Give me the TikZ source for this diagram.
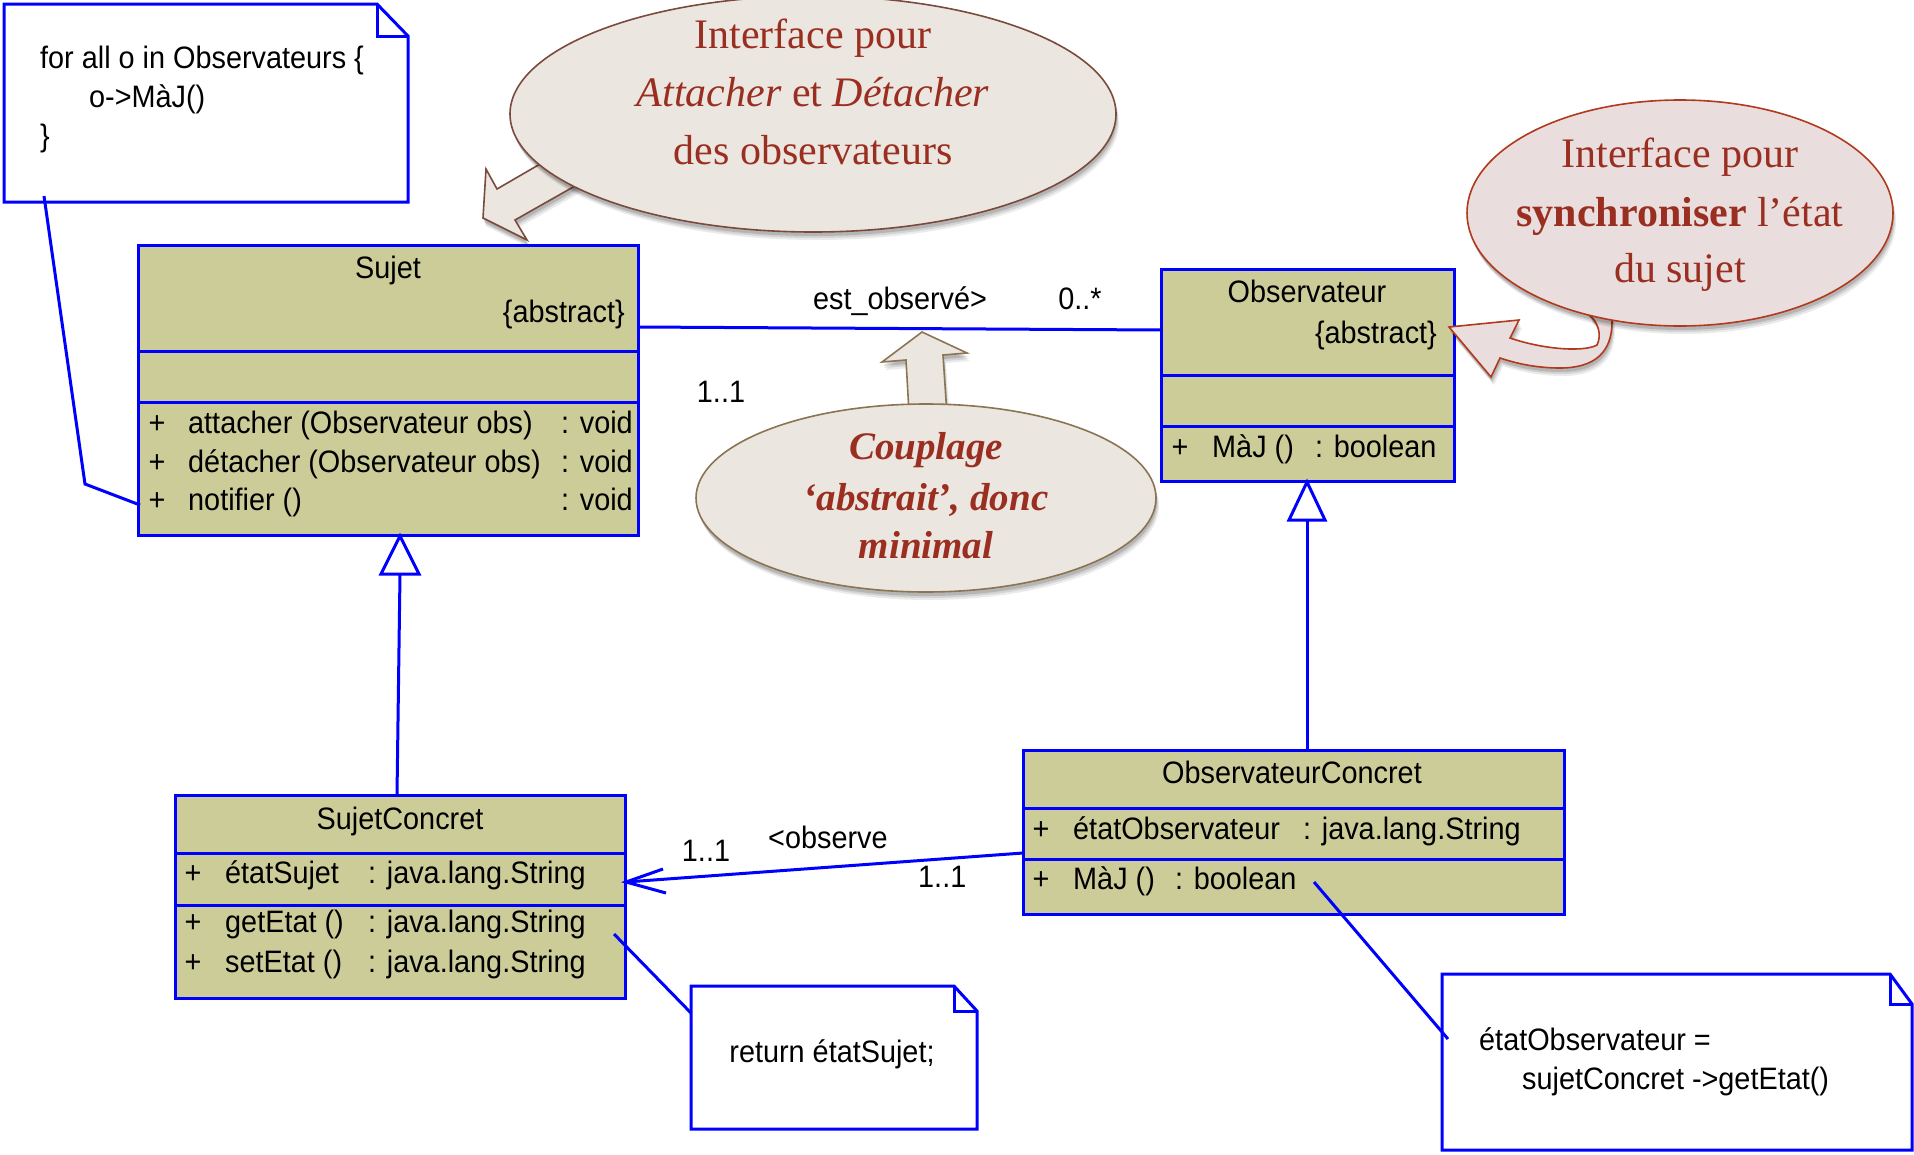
\documentclass[tikz,border=0pt]{standalone}
\usepackage{fontspec}
\newfontfamily\umlfont[FakeStretch=0.93]{Liberation Sans}
\newfontfamily\callfont{Liberation Serif}
\usetikzlibrary{shapes.geometric,shadows,calc}
\definecolor{umlfill}{HTML}{CCCC99}
\definecolor{umlblue}{HTML}{0000FF}
\definecolor{bubblefill}{HTML}{EBE6E0}
\definecolor{bubbleedge}{HTML}{7A4B3C}
\definecolor{couplageedge}{HTML}{8A7452}
\definecolor{syncfill}{HTML}{E9DEDD}
\definecolor{syncedge}{HTML}{B0391E}
\definecolor{bubbletext}{HTML}{9A2E20}

\begin{document}
\begin{tikzpicture}[x=1pt,y=-1pt,
  umlline/.style={draw=umlblue,line width=3pt},
  classbox/.style={umlline,fill=umlfill,anchor=north west,inner sep=0pt,outer sep=0pt},
  notearea/.style={anchor=north west,inner sep=0pt,outer sep=0pt},
  uml/.style={font=\umlfont\fontsize{31}{36}\selectfont,inner sep=0pt,text=black},
  softshadow/.style={
    drop shadow={shadow xshift=3pt,shadow yshift=-8pt,opacity=0.08,fill=black},
    drop shadow={shadow xshift=2pt,shadow yshift=-6pt,opacity=0.10,fill=black},
    drop shadow={shadow xshift=1pt,shadow yshift=-4pt,opacity=0.14,fill=black}},
  bubble/.style={ellipse,inner sep=0pt,line width=1.6pt,softshadow},
  pointer/.style={line width=1.6pt,line join=miter,softshadow},
  bubbletxt/.style={font=\callfont\fontsize{42}{50}\selectfont,text=bubbletext,inner sep=0pt,anchor=base},
]
\useasboundingbox (0,0) rectangle (1914,1154);

% ---------- note: loop over observers ----------
\node[notearea,minimum width=404pt,minimum height=198pt] (noteA) at (4,4) {};
\draw[umlline,fill=white,line join=miter] (noteA.north west) -- ($(noteA.north east)+(-31,0)$)
  -- ($(noteA.north east)+(0,32)$) -- (noteA.south east) -- (noteA.south west) -- cycle;
\draw[umlline,line join=miter] ($(noteA.north east)+(-31,0)$) -- ($(noteA.north east)+(-31,32)$) -- ($(noteA.north east)+(0,32)$);
\node[uml,anchor=base west] (noteAl1) at (40,68) {for all o in Observateurs \{};
\node[uml,anchor=base west] (noteAl2) at (89,107) {o->MàJ()};
\node[uml,anchor=base west] (noteAl3) at (40,146) {\}};

% ---------- class Sujet ----------
\node[classbox,minimum width=500pt,minimum height=290pt] (sujet) at (138,245) {};
\draw[umlline] (138,351) -- (638,351);
\draw[umlline] (138,402) -- (638,402);
\node[uml,anchor=base] (sujetName) at (388,278) {Sujet};
\node[uml,anchor=base east] (sujetAbs) at (625,322) {\{abstract\}};
\node[uml,anchor=base] (sujetP1) at (157,433) {+};
\node[uml,anchor=base west] (sujetM1) at (188,433) {attacher (Observateur obs)};
\node[uml,anchor=base west] (sujetT1) at (561,433) {: void};
\node[uml,anchor=base] (sujetP2) at (157,472) {+};
\node[uml,anchor=base west] (sujetM2) at (188,472) {détacher (Observateur obs)};
\node[uml,anchor=base west] (sujetT2) at (561,472) {: void};
\node[uml,anchor=base] (sujetP3) at (157,510) {+};
\node[uml,anchor=base west] (sujetM3) at (188,510) {notifier ()};
\node[uml,anchor=base west] (sujetT3) at (561,510) {: void};

% note attached to notifier()
\coordinate (noteAfoot) at (44,196);
\coordinate (noteAbend) at (85,484);
\coordinate (notifierPt) at (140,505);
\draw[umlline] (noteAfoot) -- (noteAbend) -- (notifierPt);

% ---------- class Observateur ----------
\node[classbox,minimum width=293pt,minimum height=212pt] (obs) at (1161,269) {};
\draw[umlline] (1161,375) -- (1454,375);
\draw[umlline] (1161,426) -- (1454,426);
\node[uml,anchor=base] (obsName) at (1307,302) {Observateur};
\node[uml,anchor=base east] (obsAbs) at (1437,343) {\{abstract\}};
\node[uml,anchor=base] (obsP1) at (1180,457) {+};
\node[uml,anchor=base west] (obsM1) at (1212,457) {MàJ ()};
\node[uml,anchor=base west] (obsT1) at (1315,457) {: boolean};

% association Sujet -- Observateur
\coordinate (assocL) at (638,327);
\coordinate (assocR) at (1161,330);
\draw[umlline] (assocL) -- (assocR);
\node[uml,anchor=base] (assocName) at (900,309) {est\_observé>};
\node[uml,anchor=base] (assocMulR) at (1080,309) {0..*};
\node[uml,anchor=base] (assocMulL) at (721,402) {1..1};

% ---------- class SujetConcret ----------
\node[classbox,minimum width=450pt,minimum height=203pt] (sconc) at (175,795) {};
\draw[umlline] (175,853) -- (625,853);
\draw[umlline] (175,905) -- (625,905);
\node[uml,anchor=base] (sconcName) at (400,829) {SujetConcret};
\node[uml,anchor=base] (sconcP1) at (193,883) {+};
\node[uml,anchor=base west] (sconcA1) at (225,883) {étatSujet};
\node[uml,anchor=base west] (sconcT1) at (368,883) {: java.lang.String};
\node[uml,anchor=base] (sconcP2) at (193,932) {+};
\node[uml,anchor=base west] (sconcM2) at (225,932) {getEtat ()};
\node[uml,anchor=base west] (sconcT2) at (368,932) {: java.lang.String};
\node[uml,anchor=base] (sconcP3) at (193,972) {+};
\node[uml,anchor=base west] (sconcM3) at (225,972) {setEtat ()};
\node[uml,anchor=base west] (sconcT3) at (368,972) {: java.lang.String};

% generalization SujetConcret -> Sujet
\coordinate (genSujTip) at (400,536);
\coordinate (genSujFoot) at (397,795);
\draw[umlline,fill=white,line join=miter] (genSujTip) -- ($(genSujTip)+(-19,38)$) -- ($(genSujTip)+(19,38)$) -- cycle;
\draw[umlline] ($(genSujTip)+(0,38)$) -- (genSujFoot);

% ---------- class ObservateurConcret ----------
\node[classbox,minimum width=541pt,minimum height=164pt] (oconc) at (1023,750) {};
\draw[umlline] (1023,808) -- (1564,808);
\draw[umlline] (1023,859) -- (1564,859);
\node[uml,anchor=base] (oconcName) at (1292,783) {ObservateurConcret};
\node[uml,anchor=base] (oconcP1) at (1041,839) {+};
\node[uml,anchor=base west] (oconcA1) at (1073,839) {étatObservateur};
\node[uml,anchor=base west] (oconcT1) at (1303,839) {: java.lang.String};
\node[uml,anchor=base] (oconcP2) at (1041,889) {+};
\node[uml,anchor=base west] (oconcM2) at (1073,889) {MàJ ()};
\node[uml,anchor=base west] (oconcT2) at (1175,889) {: boolean};

% generalization ObservateurConcret -> Observateur
\coordinate (genObsTip) at (1307,482);
\coordinate (genObsFoot) at (1307,750);
\draw[umlline,fill=white,line join=miter] (genObsTip) -- ($(genObsTip)+(-18,38)$) -- ($(genObsTip)+(18,38)$) -- cycle;
\draw[umlline] ($(genObsTip)+(0,38)$) -- (genObsFoot);

% association ObservateurConcret -> SujetConcret
\coordinate (obsvStart) at (1023,853);
\coordinate (obsvTip) at (626,882);
\draw[umlline] (obsvStart) -- (obsvTip);
\draw[umlline,line join=miter] ($(obsvTip)+(37,-13)$) -- (obsvTip) -- ($(obsvTip)+(40,11)$);
\node[uml,anchor=base] (obsvMulL) at (706,861) {1..1};
\node[uml,anchor=base west] (obsvName) at (768,848) {<observe};
\node[uml,anchor=base west] (obsvMulR) at (918,887) {1..1};

% ---------- note: getEtat body ----------
\node[notearea,minimum width=286pt,minimum height=143pt] (noteB) at (691,986) {};
\draw[umlline,fill=white,line join=miter] (noteB.north west) -- ($(noteB.north east)+(-23,0)$)
  -- ($(noteB.north east)+(0,25)$) -- (noteB.south east) -- (noteB.south west) -- cycle;
\draw[umlline,line join=miter] ($(noteB.north east)+(-23,0)$) -- ($(noteB.north east)+(-23,25)$) -- ($(noteB.north east)+(0,25)$);
\node[uml,anchor=base] (noteBl1) at (832,1062) {return étatSujet;};
\coordinate (getEtatPt) at (614,934);
\coordinate (noteBin) at (691,1013);
\draw[umlline] (getEtatPt) -- (noteBin);

% ---------- note: MàJ body ----------
\node[notearea,minimum width=470pt,minimum height=176pt] (noteC) at (1442,974) {};
\draw[umlline,fill=white,line join=miter] (noteC.north west) -- ($(noteC.north east)+(-22,0)$)
  -- ($(noteC.north east)+(0,30)$) -- (noteC.south east) -- (noteC.south west) -- cycle;
\draw[umlline,line join=miter] ($(noteC.north east)+(-22,0)$) -- ($(noteC.north east)+(-22,30)$) -- ($(noteC.north east)+(0,30)$);
\node[uml,anchor=base west] (noteCl1) at (1479,1050) {étatObservateur =};
\node[uml,anchor=base west] (noteCl2) at (1522,1089) {sujetConcret ->getEtat()};
\coordinate (majPt) at (1314,882);
\coordinate (noteCin) at (1448,1039);
\draw[umlline] (majPt) -- (noteCin);

% ---------- callout: attach / detach ----------
\draw[pointer,draw=bubbleedge,fill=bubblefill] (617,162) -- (582,182) -- (515,220) -- (527,240)
  -- (483,218) -- (486,169) -- (497,189) -- (547,160) -- (582,140) -- cycle;
\node[bubble,draw=bubbleedge,fill=bubblefill,minimum width=606pt,minimum height=236pt] (bubAttach) at (813,114) {};
\node[bubbletxt] (bubAttach1) at (813,48) {Interface pour};
\node[bubbletxt] (bubAttach2) at (813,106) {{\itshape Attacher} et {\itshape Détacher}};
\node[bubbletxt] (bubAttach3) at (813,164) {des observateurs};

% ---------- callout: abstract coupling ----------
\draw[pointer,draw=couplageedge,fill=bubblefill] (922,332) -- (967,353) -- (943,355) -- (948,430)
  -- (910,430) -- (906,360) -- (882,362) -- cycle;
\node[bubble,draw=couplageedge,fill=bubblefill,minimum width=460pt,minimum height=188pt] (bubCoupl) at (926,498) {};
\node[bubbletxt,font=\callfont\fontsize{39}{46}\selectfont\bfseries\itshape] (bubCoupl1) at (926,459) {Couplage};
\node[bubbletxt,font=\callfont\fontsize{39}{46}\selectfont\bfseries\itshape] (bubCoupl2) at (926,510) {‘abstrait’, donc};
\node[bubbletxt,font=\callfont\fontsize{39}{46}\selectfont\bfseries\itshape] (bubCoupl3) at (926,558) {minimal};

% ---------- callout: synchronisation ----------
\draw[pointer,draw=syncedge,fill=syncfill] (1612,300) -- (1612,322)
  .. controls (1612,352) and (1595,368) .. (1560,368)
  .. controls (1535,368) and (1515,363) .. (1500,358)
  -- (1491,377) -- (1449,327) -- (1519,320) -- (1510,338)
  .. controls (1545,350) and (1585,352) .. (1597,345)
  .. controls (1602,335) and (1598,322) .. (1590,316) -- (1592,300) -- cycle;
\node[bubble,draw=syncedge,fill=syncfill,minimum width=426pt,minimum height=226pt] (bubSync) at (1680,213) {};
\node[bubbletxt] (bubSync1) at (1680,167) {Interface pour};
\node[bubbletxt] (bubSync2) at (1680,226) {{\bfseries synchroniser} l’état};
\node[bubbletxt] (bubSync3) at (1680,282) {du sujet};

\end{tikzpicture}
\end{document}
